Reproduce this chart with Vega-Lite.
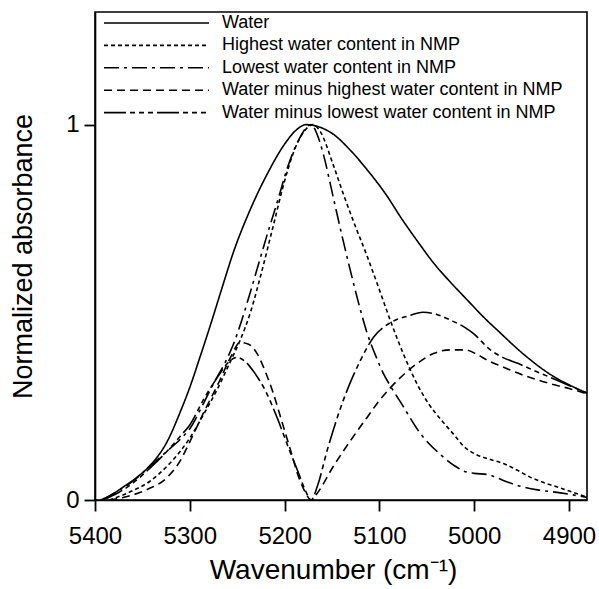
{
  "$schema": "https://vega.github.io/schema/vega-lite/v6.json",
  "width": 492,
  "height": 488,
  "autosize": {"type": "none"},
  "padding": {"left": 95, "top": 12, "right": 12, "bottom": 89},
  "background": "white",
  "config": {
    "view": {"stroke": "black", "strokeWidth": 1.6},
    "font": "Liberation Sans",
    "axis": {"domainColor": "black", "domainWidth": 1.6, "ticks": true, "tickColor": "black", "tickWidth": 1.6, "tickOpacity": 1, "labelColor": "black", "titleColor": "black", "grid": false, "labelFont": "Liberation Sans", "titleFont": "Liberation Sans", "titleFontWeight": "normal", "labelFlush": false, "labelOverlap": false}
  },
  "datasets": {
    "spectra": [
      {"series": "Water", "wn": 5394, "a": 0.0},
      {"series": "Water", "wn": 5380, "a": 0.018},
      {"series": "Water", "wn": 5370, "a": 0.035},
      {"series": "Water", "wn": 5355, "a": 0.062},
      {"series": "Water", "wn": 5342, "a": 0.092},
      {"series": "Water", "wn": 5324, "a": 0.155},
      {"series": "Water", "wn": 5310, "a": 0.235},
      {"series": "Water", "wn": 5300, "a": 0.30},
      {"series": "Water", "wn": 5290, "a": 0.375},
      {"series": "Water", "wn": 5279, "a": 0.46},
      {"series": "Water", "wn": 5266, "a": 0.565},
      {"series": "Water", "wn": 5254, "a": 0.66},
      {"series": "Water", "wn": 5236, "a": 0.775},
      {"series": "Water", "wn": 5218, "a": 0.87},
      {"series": "Water", "wn": 5200, "a": 0.948},
      {"series": "Water", "wn": 5188, "a": 0.985},
      {"series": "Water", "wn": 5177, "a": 1.0},
      {"series": "Water", "wn": 5165, "a": 0.995},
      {"series": "Water", "wn": 5149, "a": 0.975},
      {"series": "Water", "wn": 5130, "a": 0.93},
      {"series": "Water", "wn": 5113, "a": 0.88},
      {"series": "Water", "wn": 5092, "a": 0.81},
      {"series": "Water", "wn": 5078, "a": 0.755},
      {"series": "Water", "wn": 5060, "a": 0.69},
      {"series": "Water", "wn": 5043, "a": 0.632},
      {"series": "Water", "wn": 5025, "a": 0.58},
      {"series": "Water", "wn": 5007, "a": 0.532},
      {"series": "Water", "wn": 4990, "a": 0.487},
      {"series": "Water", "wn": 4972, "a": 0.444},
      {"series": "Water", "wn": 4955, "a": 0.404},
      {"series": "Water", "wn": 4937, "a": 0.366},
      {"series": "Water", "wn": 4920, "a": 0.335},
      {"series": "Water", "wn": 4900, "a": 0.307},
      {"series": "Water", "wn": 4881, "a": 0.285},

      {"series": "Highest water content in NMP", "wn": 5385, "a": 0.0},
      {"series": "Highest water content in NMP", "wn": 5360, "a": 0.025},
      {"series": "Highest water content in NMP", "wn": 5342, "a": 0.05},
      {"series": "Highest water content in NMP", "wn": 5324, "a": 0.09},
      {"series": "Highest water content in NMP", "wn": 5310, "a": 0.13},
      {"series": "Highest water content in NMP", "wn": 5300, "a": 0.165},
      {"series": "Highest water content in NMP", "wn": 5285, "a": 0.23},
      {"series": "Highest water content in NMP", "wn": 5271, "a": 0.295},
      {"series": "Highest water content in NMP", "wn": 5257, "a": 0.37},
      {"series": "Highest water content in NMP", "wn": 5247, "a": 0.425},
      {"series": "Highest water content in NMP", "wn": 5236, "a": 0.50},
      {"series": "Highest water content in NMP", "wn": 5225, "a": 0.60},
      {"series": "Highest water content in NMP", "wn": 5212, "a": 0.73},
      {"series": "Highest water content in NMP", "wn": 5200, "a": 0.85},
      {"series": "Highest water content in NMP", "wn": 5190, "a": 0.93},
      {"series": "Highest water content in NMP", "wn": 5180, "a": 0.98},
      {"series": "Highest water content in NMP", "wn": 5170, "a": 1.0},
      {"series": "Highest water content in NMP", "wn": 5162, "a": 0.98},
      {"series": "Highest water content in NMP", "wn": 5149, "a": 0.895},
      {"series": "Highest water content in NMP", "wn": 5138, "a": 0.815},
      {"series": "Highest water content in NMP", "wn": 5127, "a": 0.74},
      {"series": "Highest water content in NMP", "wn": 5113, "a": 0.65},
      {"series": "Highest water content in NMP", "wn": 5100, "a": 0.56},
      {"series": "Highest water content in NMP", "wn": 5088, "a": 0.475},
      {"series": "Highest water content in NMP", "wn": 5074, "a": 0.385},
      {"series": "Highest water content in NMP", "wn": 5060, "a": 0.308},
      {"series": "Highest water content in NMP", "wn": 5048, "a": 0.256},
      {"series": "Highest water content in NMP", "wn": 5033, "a": 0.208},
      {"series": "Highest water content in NMP", "wn": 5020, "a": 0.17},
      {"series": "Highest water content in NMP", "wn": 5011, "a": 0.143},
      {"series": "Highest water content in NMP", "wn": 4997, "a": 0.12},
      {"series": "Highest water content in NMP", "wn": 4983, "a": 0.108},
      {"series": "Highest water content in NMP", "wn": 4969, "a": 0.097},
      {"series": "Highest water content in NMP", "wn": 4955, "a": 0.08},
      {"series": "Highest water content in NMP", "wn": 4941, "a": 0.061},
      {"series": "Highest water content in NMP", "wn": 4925, "a": 0.045},
      {"series": "Highest water content in NMP", "wn": 4909, "a": 0.032},
      {"series": "Highest water content in NMP", "wn": 4895, "a": 0.02},
      {"series": "Highest water content in NMP", "wn": 4881, "a": 0.008},

      {"series": "Lowest water content in NMP", "wn": 5392, "a": 0.0},
      {"series": "Lowest water content in NMP", "wn": 5375, "a": 0.025},
      {"series": "Lowest water content in NMP", "wn": 5360, "a": 0.05},
      {"series": "Lowest water content in NMP", "wn": 5342, "a": 0.09},
      {"series": "Lowest water content in NMP", "wn": 5324, "a": 0.13},
      {"series": "Lowest water content in NMP", "wn": 5310, "a": 0.162},
      {"series": "Lowest water content in NMP", "wn": 5300, "a": 0.19},
      {"series": "Lowest water content in NMP", "wn": 5287, "a": 0.25},
      {"series": "Lowest water content in NMP", "wn": 5275, "a": 0.31},
      {"series": "Lowest water content in NMP", "wn": 5262, "a": 0.37},
      {"series": "Lowest water content in NMP", "wn": 5254, "a": 0.415},
      {"series": "Lowest water content in NMP", "wn": 5245, "a": 0.48},
      {"series": "Lowest water content in NMP", "wn": 5236, "a": 0.555},
      {"series": "Lowest water content in NMP", "wn": 5218, "a": 0.71},
      {"series": "Lowest water content in NMP", "wn": 5207, "a": 0.80},
      {"series": "Lowest water content in NMP", "wn": 5197, "a": 0.885},
      {"series": "Lowest water content in NMP", "wn": 5185, "a": 0.96},
      {"series": "Lowest water content in NMP", "wn": 5172, "a": 1.0},
      {"series": "Lowest water content in NMP", "wn": 5166, "a": 0.976},
      {"series": "Lowest water content in NMP", "wn": 5159, "a": 0.92},
      {"series": "Lowest water content in NMP", "wn": 5149, "a": 0.81},
      {"series": "Lowest water content in NMP", "wn": 5140, "a": 0.71},
      {"series": "Lowest water content in NMP", "wn": 5131, "a": 0.615},
      {"series": "Lowest water content in NMP", "wn": 5122, "a": 0.525},
      {"series": "Lowest water content in NMP", "wn": 5113, "a": 0.445},
      {"series": "Lowest water content in NMP", "wn": 5104, "a": 0.385},
      {"series": "Lowest water content in NMP", "wn": 5096, "a": 0.338},
      {"series": "Lowest water content in NMP", "wn": 5087, "a": 0.298},
      {"series": "Lowest water content in NMP", "wn": 5078, "a": 0.262},
      {"series": "Lowest water content in NMP", "wn": 5057, "a": 0.178},
      {"series": "Lowest water content in NMP", "wn": 5036, "a": 0.122},
      {"series": "Lowest water content in NMP", "wn": 5020, "a": 0.09},
      {"series": "Lowest water content in NMP", "wn": 5011, "a": 0.077},
      {"series": "Lowest water content in NMP", "wn": 5000, "a": 0.071},
      {"series": "Lowest water content in NMP", "wn": 4986, "a": 0.068},
      {"series": "Lowest water content in NMP", "wn": 4975, "a": 0.058},
      {"series": "Lowest water content in NMP", "wn": 4965, "a": 0.048},
      {"series": "Lowest water content in NMP", "wn": 4950, "a": 0.036},
      {"series": "Lowest water content in NMP", "wn": 4933, "a": 0.027},
      {"series": "Lowest water content in NMP", "wn": 4909, "a": 0.019},
      {"series": "Lowest water content in NMP", "wn": 4881, "a": 0.007},

      {"series": "Water minus highest water content in NMP", "wn": 5385, "a": 0.0},
      {"series": "Water minus highest water content in NMP", "wn": 5365, "a": 0.01},
      {"series": "Water minus highest water content in NMP", "wn": 5345, "a": 0.028},
      {"series": "Water minus highest water content in NMP", "wn": 5324, "a": 0.06},
      {"series": "Water minus highest water content in NMP", "wn": 5310, "a": 0.105},
      {"series": "Water minus highest water content in NMP", "wn": 5300, "a": 0.155},
      {"series": "Water minus highest water content in NMP", "wn": 5285, "a": 0.235},
      {"series": "Water minus highest water content in NMP", "wn": 5270, "a": 0.31},
      {"series": "Water minus highest water content in NMP", "wn": 5257, "a": 0.38},
      {"series": "Water minus highest water content in NMP", "wn": 5247, "a": 0.42},
      {"series": "Water minus highest water content in NMP", "wn": 5238, "a": 0.415},
      {"series": "Water minus highest water content in NMP", "wn": 5229, "a": 0.39},
      {"series": "Water minus highest water content in NMP", "wn": 5220, "a": 0.34},
      {"series": "Water minus highest water content in NMP", "wn": 5212, "a": 0.285},
      {"series": "Water minus highest water content in NMP", "wn": 5203, "a": 0.21},
      {"series": "Water minus highest water content in NMP", "wn": 5194, "a": 0.135},
      {"series": "Water minus highest water content in NMP", "wn": 5185, "a": 0.06},
      {"series": "Water minus highest water content in NMP", "wn": 5178, "a": 0.02},
      {"series": "Water minus highest water content in NMP", "wn": 5172, "a": 0.0},
      {"series": "Water minus highest water content in NMP", "wn": 5165, "a": 0.02},
      {"series": "Water minus highest water content in NMP", "wn": 5149, "a": 0.088},
      {"series": "Water minus highest water content in NMP", "wn": 5130, "a": 0.16},
      {"series": "Water minus highest water content in NMP", "wn": 5113, "a": 0.22},
      {"series": "Water minus highest water content in NMP", "wn": 5100, "a": 0.265},
      {"series": "Water minus highest water content in NMP", "wn": 5088, "a": 0.30},
      {"series": "Water minus highest water content in NMP", "wn": 5074, "a": 0.335},
      {"series": "Water minus highest water content in NMP", "wn": 5060, "a": 0.364},
      {"series": "Water minus highest water content in NMP", "wn": 5043, "a": 0.39},
      {"series": "Water minus highest water content in NMP", "wn": 5025, "a": 0.40},
      {"series": "Water minus highest water content in NMP", "wn": 5010, "a": 0.40},
      {"series": "Water minus highest water content in NMP", "wn": 4995, "a": 0.385},
      {"series": "Water minus highest water content in NMP", "wn": 4986, "a": 0.372},
      {"series": "Water minus highest water content in NMP", "wn": 4970, "a": 0.355},
      {"series": "Water minus highest water content in NMP", "wn": 4954, "a": 0.338},
      {"series": "Water minus highest water content in NMP", "wn": 4937, "a": 0.323},
      {"series": "Water minus highest water content in NMP", "wn": 4920, "a": 0.31},
      {"series": "Water minus highest water content in NMP", "wn": 4900, "a": 0.297},
      {"series": "Water minus highest water content in NMP", "wn": 4881, "a": 0.283},

      {"series": "Water minus lowest water content in NMP", "wn": 5392, "a": 0.0},
      {"series": "Water minus lowest water content in NMP", "wn": 5375, "a": 0.02},
      {"series": "Water minus lowest water content in NMP", "wn": 5360, "a": 0.045},
      {"series": "Water minus lowest water content in NMP", "wn": 5342, "a": 0.085},
      {"series": "Water minus lowest water content in NMP", "wn": 5324, "a": 0.13},
      {"series": "Water minus lowest water content in NMP", "wn": 5310, "a": 0.17},
      {"series": "Water minus lowest water content in NMP", "wn": 5300, "a": 0.20},
      {"series": "Water minus lowest water content in NMP", "wn": 5285, "a": 0.27},
      {"series": "Water minus lowest water content in NMP", "wn": 5270, "a": 0.33},
      {"series": "Water minus lowest water content in NMP", "wn": 5260, "a": 0.365},
      {"series": "Water minus lowest water content in NMP", "wn": 5250, "a": 0.38},
      {"series": "Water minus lowest water content in NMP", "wn": 5242, "a": 0.37},
      {"series": "Water minus lowest water content in NMP", "wn": 5232, "a": 0.34},
      {"series": "Water minus lowest water content in NMP", "wn": 5220, "a": 0.29},
      {"series": "Water minus lowest water content in NMP", "wn": 5208, "a": 0.22},
      {"series": "Water minus lowest water content in NMP", "wn": 5196, "a": 0.14},
      {"series": "Water minus lowest water content in NMP", "wn": 5185, "a": 0.07},
      {"series": "Water minus lowest water content in NMP", "wn": 5178, "a": 0.025},
      {"series": "Water minus lowest water content in NMP", "wn": 5172, "a": 0.0},
      {"series": "Water minus lowest water content in NMP", "wn": 5165, "a": 0.04},
      {"series": "Water minus lowest water content in NMP", "wn": 5155, "a": 0.133},
      {"series": "Water minus lowest water content in NMP", "wn": 5138, "a": 0.266},
      {"series": "Water minus lowest water content in NMP", "wn": 5120, "a": 0.372},
      {"series": "Water minus lowest water content in NMP", "wn": 5106, "a": 0.434},
      {"series": "Water minus lowest water content in NMP", "wn": 5088, "a": 0.473},
      {"series": "Water minus lowest water content in NMP", "wn": 5070, "a": 0.49},
      {"series": "Water minus lowest water content in NMP", "wn": 5054, "a": 0.50},
      {"series": "Water minus lowest water content in NMP", "wn": 5040, "a": 0.495},
      {"series": "Water minus lowest water content in NMP", "wn": 5025, "a": 0.479},
      {"series": "Water minus lowest water content in NMP", "wn": 5010, "a": 0.46},
      {"series": "Water minus lowest water content in NMP", "wn": 5001, "a": 0.444},
      {"series": "Water minus lowest water content in NMP", "wn": 4983, "a": 0.40},
      {"series": "Water minus lowest water content in NMP", "wn": 4970, "a": 0.38},
      {"series": "Water minus lowest water content in NMP", "wn": 4954, "a": 0.364},
      {"series": "Water minus lowest water content in NMP", "wn": 4937, "a": 0.345},
      {"series": "Water minus lowest water content in NMP", "wn": 4920, "a": 0.327},
      {"series": "Water minus lowest water content in NMP", "wn": 4900, "a": 0.305},
      {"series": "Water minus lowest water content in NMP", "wn": 4881, "a": 0.285}
    ]
  },
  "data": {"name": "spectra"},
  "mark": {"type": "line", "color": "black", "strokeWidth": 1.6, "interpolate": "monotone", "clip": true},
  "encoding": {
    "x": {
      "field": "wn", "type": "quantitative",
      "scale": {"domain": [4881, 5400], "reverse": true, "nice": false, "zero": false},
      "axis": {"values": [5400, 5300, 5200, 5100, 5000, 4900], "format": "d", "ticks": true, "tickSize": 11, "tickWidth": 1.8, "tickColor": "black", "labelFontSize": 24, "labelPadding": 13, "title": "Wavenumber (cm⁻¹)", "titleFontSize": 28, "titlePadding": 8, "titleX": 238}
    },
    "y": {
      "field": "a", "type": "quantitative",
      "scale": {"domain": [0, 1.3], "nice": false},
      "axis": {"values": [0, 1], "format": "d", "ticks": true, "tickSize": 11, "tickWidth": 1.8, "tickColor": "black", "labelFontSize": 24, "labelPadding": 5, "title": "Normalized absorbance", "titleFontSize": 27, "titlePadding": 28}
    },
    "strokeDash": {
      "field": "series", "type": "nominal",
      "scale": {
        "domain": ["Water", "Highest water content in NMP", "Lowest water content in NMP", "Water minus highest water content in NMP", "Water minus lowest water content in NMP"],
        "range": [[1, 0], [4, 3], [15, 5, 3, 5], [8, 5], [22, 4, 5, 4, 5, 4, 5, 4]]
      },
      "legend": {
        "title": null, "orient": "none", "legendX": 8, "legendY": 0, "padding": 0,
        "symbolType": "stroke", "symbolSize": 11025, "symbolStrokeColor": "black", "symbolStrokeWidth": 1.6,
        "clipHeight": 22, "rowPadding": 0.4, "labelFontSize": 18, "labelColor": "black", "labelFont": "Liberation Sans", "labelOffset": 12, "labelLimit": 500
      }
    }
  }
}
